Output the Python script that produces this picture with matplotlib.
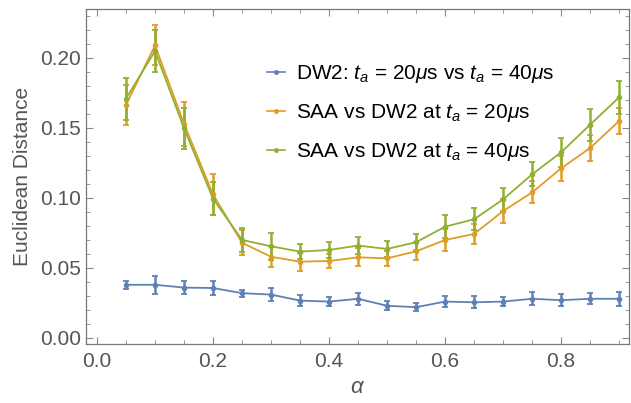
import numpy as np
import matplotlib.pyplot as plt
from matplotlib.ticker import MultipleLocator
from matplotlib.lines import Line2D

plt.rcParams['font.family'] = ['Liberation Sans', 'DejaVu Sans']
plt.rcParams['mathtext.fontset'] = 'custom'
plt.rcParams['mathtext.rm'] = 'Liberation Sans'
plt.rcParams['mathtext.it'] = 'Liberation Sans:italic'

# alpha values
alpha = [0.05, 0.10, 0.15, 0.20, 0.25, 0.30, 0.35, 0.40, 0.45,
         0.50, 0.55, 0.60, 0.65, 0.70, 0.75, 0.80, 0.85, 0.90]

# DW2: ta=20us vs ta=40us
dw2 = [0.038, 0.038, 0.036, 0.0357, 0.032, 0.031, 0.0267, 0.026, 0.028,
       0.023, 0.022, 0.026, 0.0255, 0.026, 0.028, 0.027, 0.028, 0.028]
dw2_err = [0.003, 0.0063, 0.0046, 0.0049, 0.0026, 0.0048, 0.0038, 0.0033, 0.0042,
           0.0032, 0.003, 0.0038, 0.0043, 0.0032, 0.0046, 0.0042, 0.0038, 0.0052]

# SAA vs DW2 at ta=20us
saa20 = [0.1665, 0.209, 0.153, 0.1025, 0.068, 0.058, 0.0545, 0.055, 0.0576,
         0.0569, 0.0619, 0.070, 0.0743, 0.0907, 0.104, 0.1212, 0.1357, 0.155]
saa20_err = [0.0145, 0.0143, 0.0156, 0.0146, 0.009, 0.0076, 0.0065, 0.0052, 0.0064,
             0.0055, 0.0064, 0.0076, 0.007, 0.0088, 0.0079, 0.009, 0.0094, 0.009]

# SAA vs DW2 at ta=40us
saa40 = [0.171, 0.205, 0.1497, 0.0995, 0.070, 0.0655, 0.0617, 0.0629, 0.066,
         0.0636, 0.0684, 0.0795, 0.0848, 0.099, 0.1169, 0.1326, 0.1524, 0.1719]
saa40_err = [0.015, 0.0152, 0.0146, 0.012, 0.0086, 0.0095, 0.0055, 0.0055, 0.006,
             0.006, 0.0057, 0.008, 0.008, 0.0084, 0.0086, 0.0105, 0.0114, 0.0119]

blue = '#5E81B5'
orange = '#E19C24'
green = '#8FB032'
gray = '#555555'

fig = plt.figure(figsize=(6.31, 4.03), dpi=100)
ax = fig.add_axes([86/631, 59/403, 543/631, 335/403])

labels = [r'DW2: $t_a$ = 20$\mu$s vs $t_a$ = 40$\mu$s',
          r'SAA vs DW2 at $t_a$ = 20$\mu$s',
          r'SAA vs DW2 at $t_a$ = 40$\mu$s']
handles = []
for y, e, c, lab in [(dw2, dw2_err, blue, labels[0]),
                     (saa20, saa20_err, orange, labels[1]),
                     (saa40, saa40_err, green, labels[2])]:
    ax.errorbar(alpha, y, yerr=e, color=c, lw=1.3, marker='o', ms=3,
                elinewidth=1.8, capsize=2.5, capthick=1.3)
    handles.append(Line2D([], [], color=c, lw=1.2, marker='o', ms=2.5, label=lab))

ax.set_xlim(-0.019, 0.917)
ax.set_ylim(-0.0043, 0.235)
ax.xaxis.set_major_locator(MultipleLocator(0.2))
ax.xaxis.set_minor_locator(MultipleLocator(0.05))
ax.yaxis.set_major_locator(MultipleLocator(0.05))
ax.yaxis.set_minor_locator(MultipleLocator(0.01))
ax.xaxis.set_major_formatter(lambda v, p: f'{v:.1f}')
ax.yaxis.set_major_formatter(lambda v, p: f'{v:.2f}')
ax.tick_params(which='both', direction='in', top=True, right=True,
               colors='#888888', labelcolor=gray, labelsize=15)
ax.tick_params(which='major', length=5, width=0.8)
ax.tick_params(which='minor', length=3, width=0.6)
for s in ax.spines.values():
    s.set_color('#777777')
    s.set_linewidth(0.9)
ax.tick_params(axis='x', pad=6)

ax.set_ylabel('Euclidean Distance', color=gray, fontsize=15, labelpad=6)
ax.set_xlabel(r'$\alpha$', color=gray, fontsize=16, labelpad=4)

leg = ax.legend(handles=handles, loc='upper left', bbox_to_anchor=(0.318, 0.863),
                borderaxespad=0, frameon=False, fontsize=15, handlelength=0.86,
                handletextpad=0.55, labelspacing=0.82)

fig.savefig('out.png', dpi=100)
